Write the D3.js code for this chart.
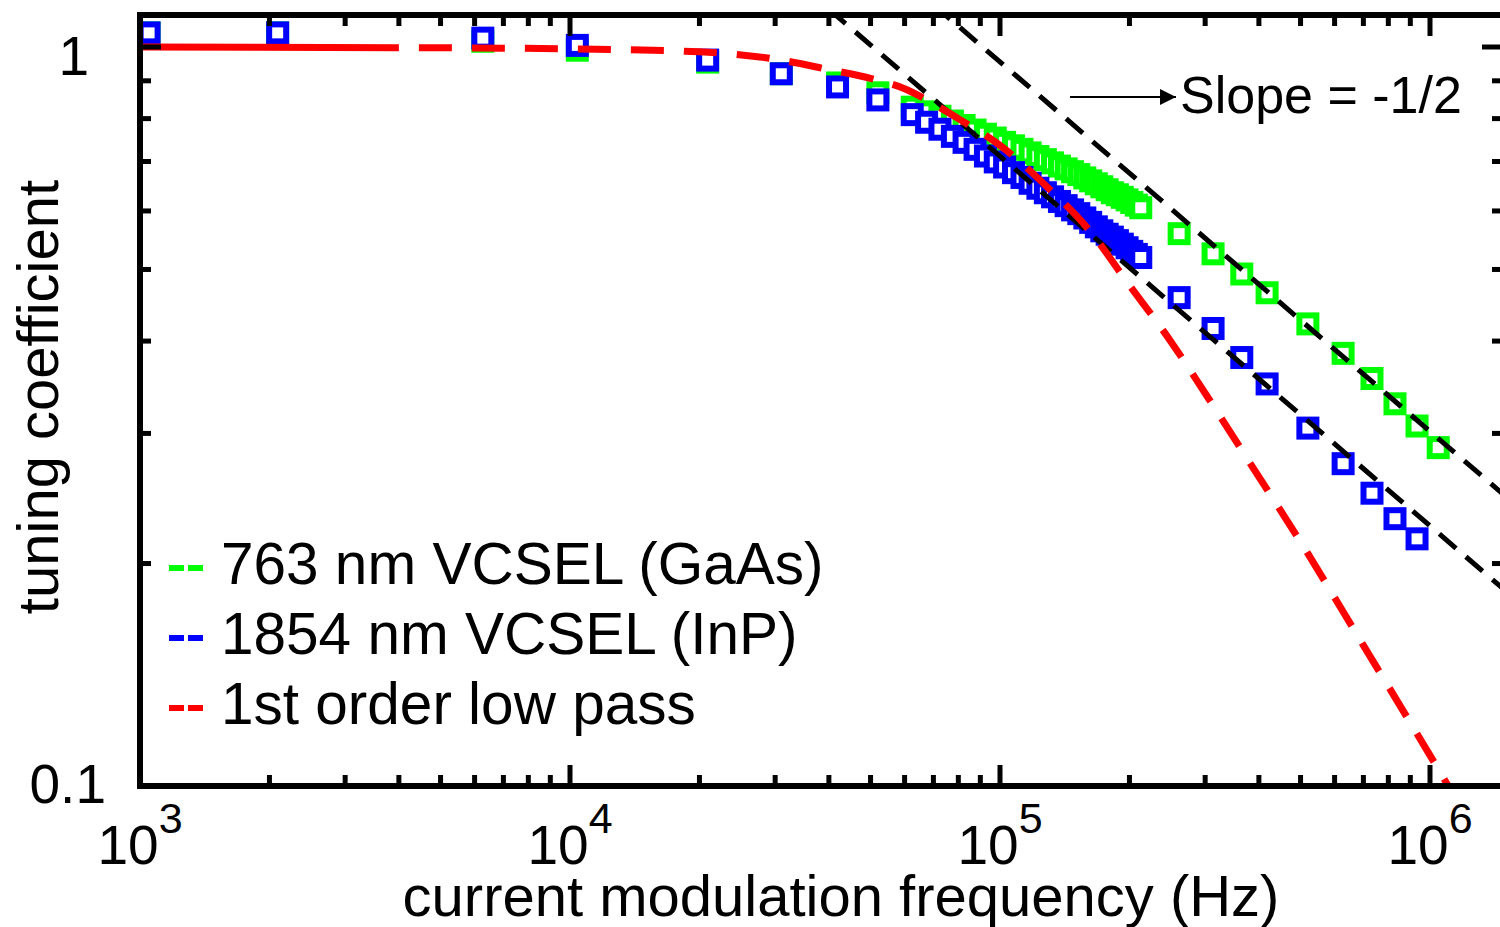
<!DOCTYPE html>
<html>
<head>
<meta charset="utf-8">
<script src="https://cdn.jsdelivr.net/npm/d3@7"></script>
<style>
  body{margin:0;background:#fff;}
  svg{display:block;font-family:"Liberation Sans",Arial,sans-serif;}
</style>
</head>
<body>
<svg id="chart" width="1500" height="927"></svg>
<script>
// values
const gaasFreq = [1.05e3, 2.09e3, 6.27e3, 1.04e4, 2.09e4, 3.1e4, 4.19e4, 5.2e4,
  6.25e4, 6.75e4, 7.25e4, 7.75e4, 8.25e4, 8.75e4, 9.25e4, 9.75e4, 1.025e5, 1.075e5, 1.125e5, 1.175e5, 1.225e5, 1.275e5,
  1.325e5, 1.375e5, 1.425e5, 1.475e5, 1.525e5, 1.575e5, 1.625e5, 1.675e5, 1.725e5, 1.775e5, 1.825e5, 1.875e5, 1.925e5,
  1.975e5, 2.025e5, 2.075e5, 2.125e5,
  2.61e5, 3.13e5, 3.65e5, 4.18e5, 5.2e5, 6.28e5, 7.33e5, 8.29e5, 9.33e5, 1.045e6];
const gaasCoef = [1.045, 1.045, 1.018, 0.990, 0.954, 0.920, 0.894, 0.867,
  0.829, 0.817, 0.806, 0.794, 0.783, 0.772, 0.762, 0.753, 0.743, 0.735, 0.727, 0.719, 0.711, 0.704,
  0.697, 0.690, 0.684, 0.678, 0.672, 0.665, 0.659, 0.653, 0.647, 0.641, 0.635, 0.631, 0.626,
  0.621, 0.616, 0.611, 0.606,
  0.559, 0.525, 0.493, 0.465, 0.422, 0.385, 0.356, 0.329, 0.307, 0.287];

const inpFreq = [1.05e3, 2.09e3, 6.27e3, 1.04e4, 2.09e4, 3.1e4, 4.19e4, 5.2e4,
  6.25e4, 6.75e4, 7.25e4, 7.75e4, 8.25e4, 8.75e4, 9.25e4, 9.75e4, 1.025e5, 1.075e5, 1.125e5, 1.175e5, 1.225e5, 1.275e5,
  1.325e5, 1.375e5, 1.425e5, 1.475e5, 1.525e5, 1.575e5, 1.625e5, 1.675e5, 1.725e5, 1.775e5, 1.825e5, 1.875e5, 1.925e5,
  1.975e5, 2.025e5, 2.075e5, 2.125e5,
  2.61e5, 3.13e5, 3.65e5, 4.18e5, 5.2e5, 6.28e5, 7.33e5, 8.29e5, 9.33e5];
const inpCoef = [1.045, 1.045, 1.028, 1.005, 0.960, 0.920, 0.883, 0.848,
  0.810, 0.791, 0.774, 0.757, 0.743, 0.727, 0.712, 0.699, 0.688, 0.676, 0.666, 0.654, 0.644, 0.635,
  0.627, 0.618, 0.610, 0.602, 0.595, 0.587, 0.579, 0.571, 0.564, 0.558, 0.553, 0.547, 0.541,
  0.535, 0.529, 0.524, 0.519,
  0.458, 0.416, 0.380, 0.350, 0.305, 0.273, 0.249, 0.230, 0.216];

const lowPassFreq = [1e3, 4e3, 1e4, 2e4, 3e4, 4e4, 5e4, 6e4, 7e4, 8e4, 1e5, 1.3e5, 1.6e5, 2e5, 2.5e5, 3e5, 4e5, 5e5, 7e5, 1e6, 1.2e6];
const lowPassCoef = [1.0, 0.998, 0.994, 0.985, 0.963, 0.932, 0.907, 0.878, 0.838, 0.800, 0.736, 0.643, 0.568, 0.476, 0.399, 0.340, 0.262, 0.214, 0.155, 0.110, 0.092];

const slopeUpperFreq = [7e4, 2e6];
const slopeUpperCoef = [1.141, 0.2135];
const slopeLowerFreq = [4e4, 2e6];
const slopeLowerCoef = [1.125, 0.159];

const xMajorTicks = [1e3, 1e4, 1e5, 1e6];
const xTickExp = ["3", "4", "5", "6"];
const yMajorTicks = [0.1, 1];
const yTickLabels = ["0.1", "1"];

const legendLabels = ["763 nm VCSEL (GaAs)", "1854 nm VCSEL (InP)", "1st order low pass"];
const legendColors = ["#00ff00", "#0000ff", "#ff0000"];

const svg = d3.select("#chart");
const pl = 140, pr = 1503, pt = 15, pb = 786;

const x = d3.scaleLog().domain([1e3, 1.48e6]).range([pl, pl + 430 * Math.log10(1480)]);
const y = d3.scaleLog().domain([0.1, 1.105]).range([pb, pb - 739 * Math.log10(11.05)]);

const defs = svg.append("defs");
defs.append("clipPath").attr("id", "plotclip")
  .append("rect").attr("x", pl).attr("y", pt).attr("width", pr - pl).attr("height", pb - pt);

const zip = (a, b) => a.map((v, i) => [v, b[i]]);

// markers
function markers(freq, coef, color){
  svg.append("g").selectAll("rect").data(zip(freq, coef)).join("rect")
    .attr("x", d => x(d[0]) - 8.5).attr("y", d => y(d[1]) - 8.5)
    .attr("width", 17).attr("height", 17)
    .attr("fill", "#fff").attr("stroke", color).attr("stroke-width", 6);
}
markers(gaasFreq, gaasCoef, legendColors[0]);
markers(inpFreq, inpCoef, legendColors[1]);

const plot = svg.append("g").attr("clip-path", "url(#plotclip)");
const line = d3.line().x(d => x(d[0])).y(d => y(d[1]));

// slope -1/2 guides
[[slopeUpperFreq, slopeUpperCoef], [slopeLowerFreq, slopeLowerCoef]].forEach(s => {
  plot.append("path").datum(zip(s[0], s[1])).attr("d", line)
    .attr("fill", "none").attr("stroke", "#000").attr("stroke-width", 5)
    .attr("stroke-dasharray", "22,13");
});

// low pass curve: solid start, then dashed
const lp = zip(lowPassFreq, lowPassCoef);
const smooth = d3.line().x(d => x(d[0])).y(d => y(d[1])).curve(d3.curveMonotoneX);
plot.append("path").datum(lp.filter(d => d[0] <= 4e3)).attr("d", smooth)
  .attr("fill", "none").attr("stroke", "#ff0000").attr("stroke-width", 7);
plot.append("path").datum(lp.filter(d => d[0] >= 4e3)).attr("d", smooth)
  .attr("fill", "none").attr("stroke", "#ff0000").attr("stroke-width", 7)
  .attr("stroke-dasharray", "33,20").attr("stroke-dashoffset", 33);

// ticks (inward, all four sides)
const axes = svg.append("g").attr("stroke", "#000").attr("stroke-width", 5);
x.ticks().filter(t => t > 1e3 && t < 1.48e6).forEach(t => {
  const len = xMajorTicks.includes(t) ? 21 : 11;
  axes.append("line").attr("x1", x(t)).attr("x2", x(t)).attr("y1", pb).attr("y2", pb - len);
  axes.append("line").attr("x1", x(t)).attr("x2", x(t)).attr("y1", pt).attr("y2", pt + len);
});
y.ticks().filter(t => t > 0.1 && t < 1.105).forEach(t => {
  const len = yMajorTicks.includes(t) ? 21 : 11;
  axes.append("line").attr("y1", y(t)).attr("y2", y(t)).attr("x1", pl).attr("x2", pl + len);
  axes.append("line").attr("y1", y(t)).attr("y2", y(t)).attr("x1", pr).attr("x2", pr - len);
});
svg.append("rect").attr("x", pl).attr("y", pt).attr("width", pr - pl).attr("height", pb - pt)
  .attr("fill", "none").attr("stroke", "#000").attr("stroke-width", 6);

// tick labels
xMajorTicks.forEach((t, i) => {
  const tx = svg.append("text").attr("x", x(t)).attr("y", 864).attr("text-anchor", "middle")
    .attr("font-size", 55).attr("fill", "#000");
  tx.append("tspan").text("10");
  tx.append("tspan").attr("dy", -31).attr("font-size", 43).text(xTickExp[i]);
});
yMajorTicks.forEach((t, i) => {
  svg.append("text").attr("x", t === 1 ? 89 : 106).attr("y", y(t) + (t === 1 ? 28 : 17))
    .attr("text-anchor", "end").attr("font-size", 55).attr("fill", "#000").text(yTickLabels[i]);
});

// axis titles
svg.append("text").attr("x", 841).attr("y", 916).attr("text-anchor", "middle")
  .attr("font-size", 58).text("current modulation frequency (Hz)");
svg.append("text").attr("transform", "translate(58,397) rotate(-90)").attr("text-anchor", "middle")
  .attr("font-size", 58).text("tuning coefficient");

// legend
const leg = svg.append("g");
legendLabels.forEach((lab, i) => {
  const ly = 568 + i * 70;
  leg.append("line").attr("x1", 169).attr("x2", 205).attr("y1", ly).attr("y2", ly)
    .attr("stroke", legendColors[i]).attr("stroke-width", 6).attr("stroke-dasharray", "15,4");
  leg.append("text").attr("x", 221).attr("y", ly + 16).attr("font-size", 58.5).text(lab);
});

// slope annotation
defs.append("marker").attr("id", "arrowhead").attr("viewBox", "0 0 10 10")
  .attr("refX", 10).attr("refY", 5).attr("markerWidth", 9).attr("markerHeight", 8)
  .attr("markerUnits", "strokeWidth").attr("orient", "auto")
  .append("path").attr("d", "M0,0L10,5L0,10Z").attr("fill", "#000");
svg.append("line").attr("x1", 1070).attr("x2", 1176).attr("y1", 97).attr("y2", 97)
  .attr("stroke", "#000").attr("stroke-width", 2).attr("marker-end", "url(#arrowhead)");
svg.append("text").attr("x", 1180).attr("y", 113).attr("font-size", 52).text("Slope = -1/2");
</script>
</body>
</html>
